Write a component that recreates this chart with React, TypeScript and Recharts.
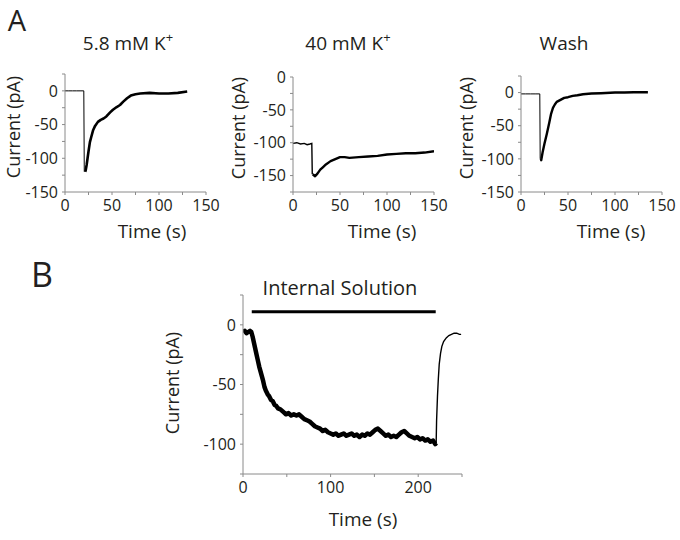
import { LineChart, Line, XAxis, YAxis, ReferenceLine } from 'recharts';

const FONT = '"Open Sans", "Noto Sans", sans-serif';
const AXIS = '#8a8a8a';
const INK = '#231f20';

// Panel A, 5.8 mM K+
const p1BaseTime = [0, 4, 8, 12, 16, 20, 20.5];
const p1BaseCurrent = [0, 0, 0, 0, 0, 0, -120];
const p1Time = [21.5, 22, 23, 24, 25, 26.5, 28, 30, 32, 35, 38, 41, 44, 48, 51, 55, 58.5, 62, 66, 70, 75, 80, 90, 100, 110, 120, 130];
const p1Current = [-120, -118, -110, -100, -90, -76, -68, -58, -52, -46, -43, -41, -38, -32, -28, -24, -21, -16, -11, -7, -5, -4, -3, -4, -4, -3, -1];

// Panel A, 40 mM K+
const p2BaseTime = [0, 4, 8, 12, 15, 18, 20, 20.5];
const p2BaseCurrent = [-101, -100, -102, -101, -103, -102, -101, -148];
const p2Time = [21, 23.5, 26, 29, 32, 35, 40, 45, 50, 55, 60, 70, 80, 90, 100, 110, 120, 130, 140, 150];
const p2Current = [-148, -151, -147, -141, -137, -133, -128, -125, -122, -122, -123, -122, -121, -120, -118, -117, -116, -116, -115, -113];

// Panel A, wash
const p3BaseTime = [0, 5, 10, 15, 20, 20.4];
const p3BaseCurrent = [-2, -2, -2, -2, -2, -100];
const p3Time = [21, 21.5, 23, 25, 27.5, 30, 32, 34, 36, 38, 42, 46, 50, 55, 60, 66, 75, 85, 100, 110, 120, 135];
const p3Current = [-100, -102, -90, -77, -62, -46, -32, -23, -18, -14, -11, -8, -7, -5, -4, -2.5, -1.5, -1, 0, 0, 0.5, 0.5];

// Panel B, internal solution
const pbTime = [0, 2, 4, 6, 8, 9.5, 11, 12.5, 14, 15.5, 17, 18.5, 20, 21.5, 23, 24.5, 26, 28, 30, 32, 34, 36, 38, 40, 43, 46, 49, 52, 55, 58, 61, 64, 67, 70, 73, 76, 79, 82, 85, 88, 91, 94, 97, 100, 103, 106, 109, 112, 115, 118, 121, 124, 127, 130, 133, 136, 139, 142, 145, 148, 151, 154, 157, 160, 163, 166, 169, 172, 175, 178, 181, 184, 187, 190, 193, 196, 199, 202, 205, 208, 211, 214, 217, 219.5, 220.5];
const pbCurrent = [-6, -5, -7, -6, -5, -6, -10, -15, -20, -25, -30, -35, -39, -43, -47, -52, -55, -58, -60, -63, -64, -67, -68, -70, -71, -73, -75, -74, -76, -75, -76, -75, -77, -79, -80, -81, -83, -85, -86, -87, -89, -88, -90, -91, -92, -91, -93, -92, -91, -93, -92, -91, -93, -92, -94, -92, -93, -91, -92, -90, -88, -87, -89, -91, -93, -92, -94, -93, -94, -92, -90, -89, -91, -93, -94, -95, -94, -96, -95, -97, -96, -98, -97, -100, -99];
const pbRecTime = [220.5, 221, 222, 223, 224, 225.5, 227, 229, 232, 235, 238, 241, 244, 247, 249];
const pbRecCurrent = [-99, -80, -60, -45, -33, -24, -18, -14, -11, -9, -8, -7, -7, -8, -8];

// bar marking the internal solution application
const barStart = 10;
const barEnd = 220;
const barLevel = 11;

const zip = (t: number[], c: number[]) => t.map((time, i) => ({ time, current: c[i] }));

const tickStyle = { fill: INK, fontSize: 16, fontFamily: FONT };

const major = (step: number) => (v: number) => (v % step === 0 ? String(v) : '');

interface PanelProps {
  left: number;
  top: number;
  width: number;
  height: number;
  margin: { top: number; right: number; bottom: number; left: number };
  yWidth: number;
  xDomain: [number, number];
  xTicks: number[];
  xStep: number;
  yDomain: [number, number];
  yTicks: number[];
  base: Array<{ time: number; current: number }>;
  trace: Array<{ time: number; current: number }>;
  traceWidth: number;
  baseWidth?: number;
  children?: React.ReactNode;
}

function Panel(p: PanelProps) {
  return (
    <div style={{ position: 'absolute', left: p.left, top: p.top }}>
      <LineChart width={p.width} height={p.height} margin={p.margin}>
        <XAxis
          type="number"
          dataKey="time"
          domain={p.xDomain}
          ticks={p.xTicks}
          interval={0}
          allowDataOverflow
          tickFormatter={major(p.xStep)}
          tick={tickStyle}
          tickSize={3}
          tickMargin={5}
          stroke={AXIS}
          height={30}
        />
        <YAxis
          type="number"
          domain={p.yDomain}
          ticks={p.yTicks}
          interval={0}
          allowDataOverflow
          tickFormatter={(v: number) => (v % 50 === 0 && v <= 0 ? String(v) : '')}
          tick={tickStyle}
          tickSize={3}
          tickMargin={4}
          stroke={AXIS}
          width={p.yWidth}
        />
        <Line
          data={p.base}
          dataKey="current"
          type="linear"
          stroke="#000"
          strokeWidth={p.baseWidth ?? 1}
          dot={false}
          isAnimationActive={false}
        />
        <Line
          data={p.trace}
          dataKey="current"
          type="linear"
          stroke="#000"
          strokeWidth={p.traceWidth}
          strokeLinejoin="round"
          dot={false}
          isAnimationActive={false}
        />
        {p.children}
      </LineChart>
    </div>
  );
}

const ticksA = [0, 25, 50, 75, 100, 125, 150];
const ticksB = [0, 50, 100, 150, 200, 250];

export default function App() {
  return (
    <div
      style={{
        position: 'absolute',
        left: 0,
        top: 0,
        width: 680,
        height: 540,
        background: '#fff',
        fontFamily: FONT,
        overflow: 'hidden',
      }}
    >
      <Panel
        left={0}
        top={60}
        width={220}
        height={162}
        margin={{ top: 14, right: 14, bottom: 0, left: 0 }}
        yWidth={65}
        xDomain={[0, 150]}
        xTicks={ticksA}
        xStep={50}
        yDomain={[-150, 25]}
        yTicks={[-150, -125, -100, -75, -50, -25, 0, 25]}
        base={zip(p1BaseTime, p1BaseCurrent)}
        trace={zip(p1Time, p1Current)}
        traceWidth={2.6}
      />
      <Panel
        left={230}
        top={60}
        width={220}
        height={162}
        margin={{ top: 17, right: 16, bottom: 0, left: 0 }}
        yWidth={63}
        xDomain={[0, 150]}
        xTicks={ticksA}
        xStep={50}
        yDomain={[-175, 0]}
        yTicks={[-175, -150, -125, -100, -75, -50, -25, 0]}
        base={zip(p2BaseTime, p2BaseCurrent)}
        trace={zip(p2Time, p2Current)}
        traceWidth={2.4}
        baseWidth={1.4}
      />
      <Panel
        left={450}
        top={60}
        width={230}
        height={162}
        margin={{ top: 16, right: 18, bottom: 0, left: 0 }}
        yWidth={71}
        xDomain={[0, 150]}
        xTicks={ticksA}
        xStep={50}
        yDomain={[-150, 25]}
        yTicks={[-150, -125, -100, -75, -50, -25, 0, 25]}
        base={zip(p3BaseTime, p3BaseCurrent)}
        trace={zip(p3Time, p3Current)}
        traceWidth={2.4}
      />
      <Panel
        left={150}
        top={280}
        width={330}
        height={224}
        margin={{ top: 15, right: 18, bottom: 0, left: 0 }}
        yWidth={93}
        xDomain={[0, 250]}
        xTicks={ticksB}
        xStep={100}
        yDomain={[-125, 25]}
        yTicks={[-125, -100, -75, -50, -25, 0, 25]}
        base={zip(pbRecTime, pbRecCurrent)}
        trace={zip(pbTime, pbCurrent)}
        traceWidth={4.5}
        baseWidth={1.4}
      >
        <ReferenceLine
          segment={[
            { x: barStart, y: barLevel },
            { x: barEnd, y: barLevel },
          ]}
          stroke="#000"
          strokeWidth={3}
        />
      </Panel>

      <svg
        width={680}
        height={540}
        style={{ position: 'absolute', left: 0, top: 0, pointerEvents: 'none' }}
        fontFamily={FONT}
        fill={INK}
      >
        <text x={17} y={31} fontSize={29} textAnchor="middle">A</text>
        <text x={42} y={287} fontSize={34} textAnchor="middle">B</text>

        <text x={128} y={50} fontSize={19} textAnchor="middle">
          5.8 mM K<tspan dy={-8} fontSize={13}>+</tspan>
        </text>
        <text x={348} y={50} fontSize={19} textAnchor="middle">
          40 mM K<tspan dy={-8} fontSize={13}>+</tspan>
        </text>
        <text x={564} y={50} fontSize={19} textAnchor="middle">Wash</text>

        <text x={340} y={295} fontSize={20} textAnchor="middle">Internal Solution</text>

        <text x={152} y={238} fontSize={19} textAnchor="middle">Time (s)</text>
        <text x={382} y={238} fontSize={19} textAnchor="middle">Time (s)</text>
        <text x={611} y={238} fontSize={19} textAnchor="middle">Time (s)</text>
        <text x={363} y={526} fontSize={19} textAnchor="middle">Time (s)</text>

        <text x={19.5} y={127} fontSize={18} textAnchor="middle" transform="rotate(-90 19.5 127)">Current (pA)</text>
        <text x={245} y={128} fontSize={18} textAnchor="middle" transform="rotate(-90 245 128)">Current (pA)</text>
        <text x={473} y={128} fontSize={18} textAnchor="middle" transform="rotate(-90 473 128)">Current (pA)</text>
        <text x={179} y={383} fontSize={18} textAnchor="middle" transform="rotate(-90 179 383)">Current (pA)</text>
      </svg>
    </div>
  );
}
